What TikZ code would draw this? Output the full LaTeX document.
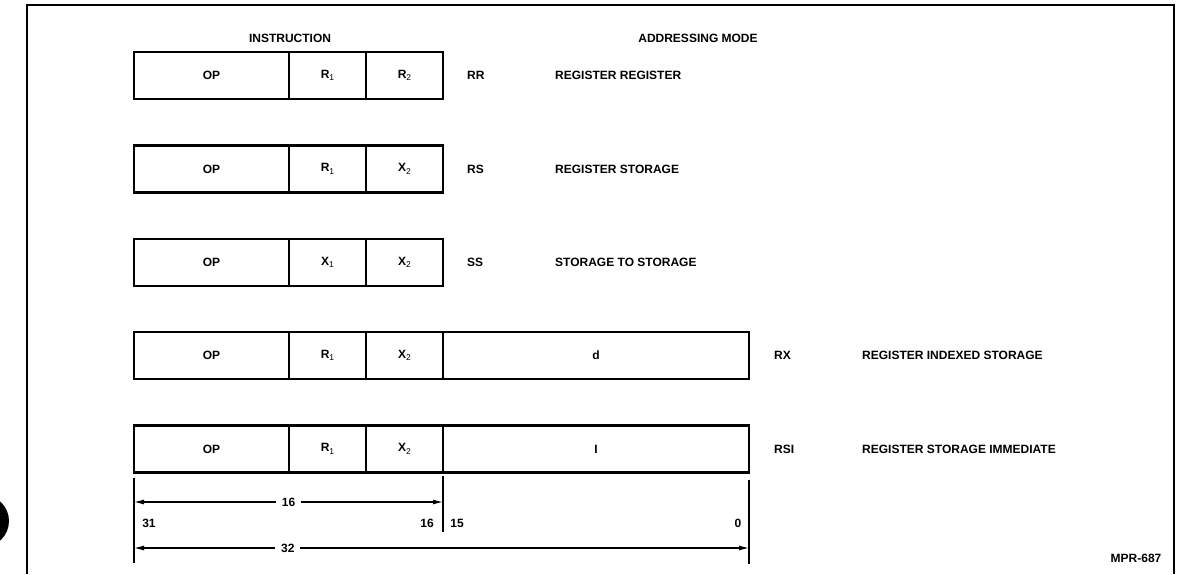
\documentclass[tikz,border=0pt]{standalone}
\usepackage{fontspec}
\setmainfont{Liberation Sans}
\usetikzlibrary{arrows.meta,positioning,calc}

\newcommand{\fieldsub}[1]{\raisebox{-0.4ex}{\fontsize{8.5}{9}\selectfont\mdseries #1}}

\tikzset{
	field/.style={draw, line width=2.5pt, minimum height=47pt, inner sep=0pt,
		outer sep=0pt, font=\fontsize{12}{14}\selectfont\bfseries},
	modelbl/.style={anchor=west, inner sep=0pt, font=\fontsize{12}{14}\selectfont\bfseries},
	bitlbl/.style={inner sep=0pt, font=\fontsize{12}{14}\selectfont\bfseries},
	dimline/.style={line width=1.1pt},
	dimarrow/.style={line width=1.1pt, {Latex[length=10pt,width=5pt]}-{Latex[length=10pt,width=5pt]}}
}

\begin{document}
\begin{tikzpicture}[x=1pt,y=-1pt]
	\useasboundingbox (0,0) rectangle (1188,574);
	
	% Frame and punch hole
	\draw[line width=1.5pt] (27,574) -- (27,5) -- (1174,5) -- (1174,574);
	\begin{scope}
		\clip (0,0) rectangle (1188,574);
		\fill[black] (-17,521) circle (26);
	\end{scope}
	
	% Headings
	\node[bitlbl] (instr) at (290,38) {INSTRUCTION};
	\node[bitlbl] (admode) at (698,38) {ADDRESSING MODE};
	
	% RR
	\node[field, minimum width=155pt, anchor=north west] (op1) at (134,52) {OP};
	\node[field, minimum width=77pt, right=0pt of op1] (fa1) {R\fieldsub{1}};
	\node[field, minimum width=77pt, right=0pt of fa1] (fb1) {R\fieldsub{2}};
	\node[modelbl] (ab1) at (467,75.5) {RR};
	\node[modelbl] (md1) at (555,75.5) {REGISTER REGISTER};
	
	% RS
	\node[field, minimum width=155pt, anchor=north west] (op2) at (134,145.5) {OP};
	\node[field, minimum width=77pt, right=0pt of op2] (fa2) {R\fieldsub{1}};
	\node[field, minimum width=77pt, right=0pt of fa2] (fb2) {X\fieldsub{2}};
	\node[modelbl] (ab2) at (467,169) {RS};
	\node[modelbl] (md2) at (555,169) {REGISTER STORAGE};
	
	% SS
	\node[field, minimum width=155pt, anchor=north west] (op3) at (134,239) {OP};
	\node[field, minimum width=77pt, right=0pt of op3] (fa3) {X\fieldsub{1}};
	\node[field, minimum width=77pt, right=0pt of fa3] (fb3) {X\fieldsub{2}};
	\node[modelbl] (ab3) at (467,262.5) {SS};
	\node[modelbl] (md3) at (555,262.5) {STORAGE TO STORAGE};
	
	% RX
	\node[field, minimum width=155pt, anchor=north west] (op4) at (134,332) {OP};
	\node[field, minimum width=77pt, right=0pt of op4] (fa4) {R\fieldsub{1}};
	\node[field, minimum width=77pt, right=0pt of fa4] (fb4) {X\fieldsub{2}};
	\node[field, minimum width=306pt, right=0pt of fb4] (fc4) {d};
	\node[modelbl] (ab4) at (774,355.5) {RX};
	\node[modelbl] (md4) at (862,355.5) {REGISTER INDEXED STORAGE};
	
	% RSI
	\node[field, minimum width=155pt, anchor=north west] (op5) at (134,425.5) {OP};
	\node[field, minimum width=77pt, right=0pt of op5] (fa5) {R\fieldsub{1}};
	\node[field, minimum width=77pt, right=0pt of fa5] (fb5) {X\fieldsub{2}};
	\node[field, minimum width=306pt, right=0pt of fb5] (fc5) {I};
	\node[modelbl] (ab5) at (774,449) {RSI};
	\node[modelbl] (md5) at (862,449) {REGISTER STORAGE IMMEDIATE};
	
	% Bit widths
	\coordinate (l1) at ($(op5.south west)+(0,5)$);
	\coordinate (l2) at ($(op5.south west)+(0,90)$);
	\coordinate (m1) at ($(fb5.south east)+(0,3)$);
	\coordinate (m2) at ($(fb5.south east)+(0,59)$);
	\coordinate (r1) at ($(fc5.south east)+(0,7)$);
	\coordinate (r2) at ($(fc5.south east)+(0,91)$);
	\draw[dimline] (l1) -- (l2);
	\draw[dimline] (m1) -- (m2);
	\draw[dimline] (r1) -- (r2);
	
	\coordinate (a16l) at (l1 |- 0,502);
	\coordinate (a16r) at (m1 |- 0,502);
	\coordinate (a32l) at (l1 |- 0,548);
	\coordinate (a32r) at (r1 |- 0,548);
	\draw[dimarrow] (a16l) -- node[fill=white, bitlbl, inner xsep=6pt] (w16) {16} (a16r);
	\draw[dimarrow] (a32l) -- node[pos=0.25, fill=white, bitlbl, inner xsep=6pt] (w32) {32} (a32r);
	
	\node[bitlbl] (b31) at (149,523) {31};
	\node[bitlbl] (b16) at (427,523) {16};
	\node[bitlbl] (b15) at (457,523) {15};
	\node[bitlbl] (b0) at (738,523) {0};
	
	\node[bitlbl] (fig) at (1136,558) {MPR-687};
\end{tikzpicture}
\end{document}
